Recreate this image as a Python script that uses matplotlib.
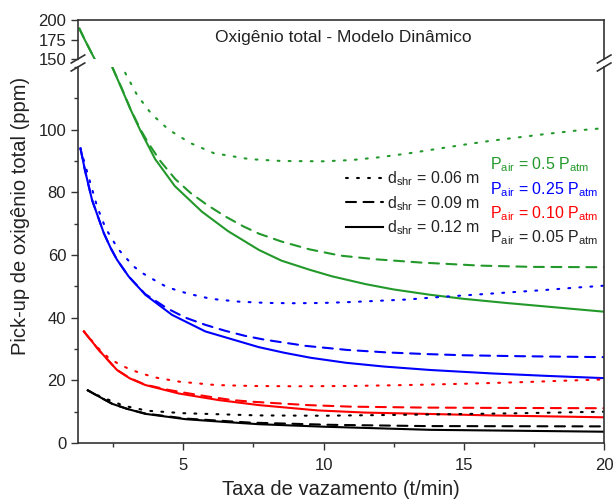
import matplotlib
matplotlib.use('Agg')
from matplotlib import pyplot as plt
from matplotlib.lines import Line2D
from matplotlib.ticker import MultipleLocator

plt.rcParams['font.family'] = ['Liberation Sans', 'DejaVu Sans']
plt.rcParams['mathtext.fontset'] = 'custom'
plt.rcParams['mathtext.rm'] = 'Liberation Sans'
plt.rcParams['mathtext.it'] = 'Liberation Sans'

####################
# data
####################

# P_air = 0.5 P_atm (green)
g_solid_x = [1.3, 1.5, 1.83, 2.1, 2.47, 2.82, 3.12, 3.48, 4.0, 4.7, 5.67, 6.6, 7.7, 8.5, 9.5, 10.3, 11.5, 12.5, 13.8, 15, 16.5, 18, 20]
g_solid_y = [189, 174, 151, 135, 120, 112.8, 106.5, 99.6, 90.6, 82.0, 73.8, 67.6, 61.6, 58.2, 55.3, 53.2, 50.7, 49.0, 47.3, 46.0, 44.7, 43.5, 41.9]
g_dash_x = [1.3, 1.5, 1.83, 2.1, 2.47, 2.82, 3.12, 3.48, 3.77, 4.2, 4.72, 5.26, 5.85, 6.5, 7.15, 7.7, 8.5, 9.5, 10.6, 11.9, 13.45, 15.6, 17.5, 20]
g_dash_y = [189, 174, 151, 135, 120, 113, 106.6, 100, 95.5, 89.8, 84.2, 79.8, 76, 72.3, 69.1, 66.8, 64.3, 61.8, 59.8, 58.6, 57.6, 56.6, 56.2, 56.1]
g_dot_x = [2.5, 2.94, 3.36, 3.87, 4.48, 5.26, 6.09, 7.36, 8.5, 10, 11, 12, 13, 14, 15, 16, 17, 18, 19, 20]
g_dot_y = [128, 118, 111, 105, 100, 95.7, 92.5, 90.6, 90, 89.9, 90.3, 91.2, 92.4, 93.8, 95.2, 96.5, 97.6, 98.7, 99.7, 100.5]

# P_air = 0.25 P_atm (blue)
b_solid_x = [1.34, 1.5, 1.75, 2.17, 2.41, 2.64, 3.06, 3.65, 4.6, 5.79, 7.69, 8.6, 9.54, 10.8, 12.15, 13.8, 16, 18, 20]
b_solid_y = [94, 87, 77.6, 67, 62.3, 58.5, 53.1, 47.3, 40.9, 35.6, 30.6, 28.8, 27.2, 25.6, 24.4, 23.3, 22.2, 21.4, 20.7]
b_dash_x = [1.34, 1.5, 1.75, 2.17, 2.41, 2.64, 3.06, 3.65, 4.42, 5.08, 5.79, 6.5, 7.2, 7.88, 9.36, 10.84, 12.27, 13.6, 15, 17, 20]
b_dash_y = [94, 87, 77.6, 67, 62.3, 58.5, 53.1, 47.5, 43, 40, 37.7, 35.8, 34.2, 33.0, 31.0, 29.7, 28.9, 28.4, 28.0, 27.7, 27.4]
b_dot_x = [1.34, 1.52, 1.93, 2.23, 2.68, 2.94, 3.24, 3.59, 3.99, 4.39, 4.78, 5.2, 6, 7, 8, 9, 10, 11, 12, 13, 14, 15, 16, 17, 18, 19, 20]
b_dot_y = [94, 88.3, 75.5, 68.6, 61.9, 59.3, 56.3, 54, 51.9, 49.9, 48.7, 47.6, 46, 45.1, 44.7, 44.6, 44.7, 45, 45.4, 45.8, 46.5, 47.1, 47.7, 48.3, 48.9, 49.6, 50.2]

# P_air = 0.10 P_atm (red)
r_solid_x = [1.46, 1.99, 2.64, 3.1, 3.65, 4.84, 6.26, 7.69, 9.78, 11.5, 13.6, 16, 18, 20]
r_solid_y = [35.6, 29.7, 23.3, 20.6, 18.5, 15.8, 13.7, 12.1, 10.4, 9.7, 9.3, 8.8, 8.5, 8.2]
r_dash_x = [1.46, 1.99, 2.64, 3.1, 3.65, 4.5, 5.08, 5.9, 6.74, 7.4, 9.42, 10.96, 13.6, 16, 20]
r_dash_y = [35.6, 29.7, 23.3, 20.7, 18.6, 16.9, 16, 14.8, 13.7, 13.2, 12.1, 11.6, 11.3, 11.2, 11.1]
r_dot_x = [1.46, 2.0, 2.35, 2.76, 3.16, 3.59, 4.01, 4.84, 6.15, 7.45, 9, 11, 13, 15, 17, 19, 20]
r_dot_y = [35.6, 30, 27.1, 24.9, 23.3, 22, 20.9, 19.6, 18.5, 18.2, 18.1, 18.2, 18.5, 18.9, 19.4, 20, 20.3]

# P_air = 0.05 P_atm (black)
k_solid_x = [1.6, 2.0, 2.47, 3.0, 3.65, 5.08, 6.5, 7.69, 10, 13.8, 17, 20]
k_solid_y = [16.8, 14.8, 12.5, 10.9, 9.3, 7.6, 6.7, 6.0, 5.2, 4.2, 3.9, 3.6]
k_dash_x = [1.6, 2.0, 2.47, 3.0, 3.65, 5.08, 6.5, 7.4, 10.25, 13.6, 20]
k_dash_y = [16.8, 14.8, 12.5, 10.9, 9.4, 7.8, 7.0, 6.5, 5.8, 5.4, 5.3]
k_dot_x = [1.6, 2.05, 2.88, 3.71, 5.02, 7.69, 10, 13.8, 17, 20]
k_dot_y = [16.8, 14.8, 11.9, 10.3, 9.5, 8.8, 8.7, 9.1, 9.5, 10]

pressure_labels = ['0.5', '0.25', '0.10', '0.05']
diameter_labels = ['0.06', '0.09', '0.12']
colors = ['#22992a', '#0000ff', '#ff0000', '#000000']

series = [
    [(g_dot_x, g_dot_y), (g_dash_x, g_dash_y), (g_solid_x, g_solid_y)],
    [(b_dot_x, b_dot_y), (b_dash_x, b_dash_y), (b_solid_x, b_solid_y)],
    [(r_dot_x, r_dot_y), (r_dash_x, r_dash_y), (r_solid_x, r_solid_y)],
    [(k_dot_x, k_dot_y), (k_dash_x, k_dash_y), (k_solid_x, k_solid_y)],
]
styles = [(0, (0.9, 4.4)), (0, (4.8, 3.6)), '-']

####################
# figure with broken y axis
####################

fig = plt.figure(figsize=(6.14, 5.03), dpi=100)
left, right = 0.127, 0.984
ax_top = fig.add_axes([left, 0.8827, right - left, 0.9602 - 0.8827])
ax = fig.add_axes([left, 0.1193, right - left, 0.8668 - 0.1193])

for a in (ax_top, ax):
    for group, color in zip(series, colors):
        for (x, y), ls in zip(group, styles):
            a.plot(x, y, color=color, linestyle=ls, lw=1.5,
                   dash_capstyle='round' if ls != '-' else 'butt')
    a.set_xlim(1.25, 20)
    a.tick_params(direction='out', labelsize=12, color='#333333', length=5, width=1,
                  labelcolor='#222222')
    a.tick_params(which='minor', direction='out', length=3, width=1, color='#333333')
    for sp in a.spines.values():
        sp.set_color('#333333')
        sp.set_linewidth(1.2)

ax_top.set_ylim(150, 200)
ax_top.set_yticks([150, 175, 200])
ax_top.spines['bottom'].set_visible(False)
ax_top.tick_params(axis='x', bottom=False, labelbottom=False)

ax.set_ylim(0, 120)
ax.set_yticks([0, 20, 40, 60, 80, 100])
ax.yaxis.set_minor_locator(MultipleLocator(10))
ax.set_xticks([5, 10, 15, 20])
ax.xaxis.set_minor_locator(MultipleLocator(2.5))
ax.tick_params(axis='x', pad=6)
ax.spines['top'].set_visible(False)

ax_top.text(0.505, 0.56, 'Oxigênio total - Modelo Dinâmico', transform=ax_top.transAxes,
            ha='center', va='center', fontsize=12.5, color='#222222')

ax.set_xlabel('Taxa de vazamento (t/min)', fontsize=14.5, color='#222222', labelpad=5)
fig.text(0.033, 0.57, 'Pick-up de oxigênio total (ppm)', rotation=90, ha='center',
         va='center', fontsize=14.5, color='#222222')

# line style legend
handles = [Line2D([], [], color='black', linestyle=ls, lw=1.5,
                  dash_capstyle='round' if ls != '-' else 'butt') for ls in styles]
labels = ['d$_{\\mathrm{shr}}$ = %s m' % d for d in diameter_labels]
ax.legend(handles, labels, loc='upper left', bbox_to_anchor=(0.497, 0.744), frameon=False,
          fontsize=11.5, handlelength=2.35, handletextpad=0.25, labelspacing=0.35,
          labelcolor='#222222', borderaxespad=0.0)

# pressure labels in colour
baselines = [0.729, 0.662, 0.598, 0.535]
for p, color, yb in zip(pressure_labels, colors, baselines):
    ax.text(0.783, yb, 'P$_{\\mathrm{air}}$ = %s P$_{\\mathrm{atm}}$' % p, transform=ax.transAxes,
            ha='left', va='baseline', fontsize=11.5, color=color if color != '#000000' else '#222222')

# break marks on both side spines
y_lo = ax.get_position().y1
y_hi = ax_top.get_position().y0
dx, dy = 0.011, 0.008
for xs in (left, right):
    for yc in (y_lo, y_hi):
        fig.add_artist(Line2D([xs - dx, xs + dx], [yc - dy, yc + dy],
                              color='#333333', lw=1.2, transform=fig.transFigure))

fig.savefig('out.png', dpi=100)
